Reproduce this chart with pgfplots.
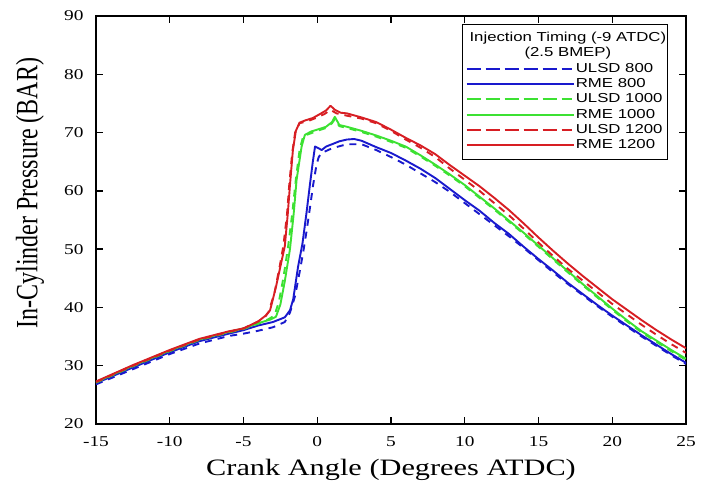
\documentclass[border=0pt]{standalone}
\usepackage{fontspec}
\setmainfont{Liberation Serif}
\newfontfamily\legfont{Liberation Sans}
\usepackage{graphicx}
\usepackage{pgfplots}
\pgfplotsset{compat=1.18}
\definecolor{cblue}{RGB}{25,25,205}
\definecolor{cgreen}{RGB}{60,225,50}
\definecolor{cred}{RGB}{215,30,35}
\newcommand{\sx}[1]{\scalebox{1.29}[1]{#1}}
\begin{document}
\begin{tikzpicture}
\begin{axis}[
  scale only axis, width=590bp, height=408bp,
  xmin=-15, xmax=25, ymin=20, ymax=90,
  xtick={-15,-10,...,25}, ytick={20,30,...,90},
  tick align=inside, major tick length=7bp,
  axis line style={line width=1.3bp}, tick style={line width=1.3bp, black},
  ticklabel style={font=\fontsize{15bp}{17bp}\selectfont},
  xticklabel={\sx{\pgfmathprintnumber[assume math mode=true]{\tick}}},
  yticklabel={\sx{\pgfmathprintnumber[assume math mode=true]{\tick}}},
  xticklabel style={yshift=-9bp},
  yticklabel style={xshift=-9bp},
  xlabel={\sx{Crank Angle (Degrees ATDC)}},
  ylabel={\scalebox{1}[1.29]{In-Cylinder Pressure (BAR)}},
  xlabel style={font=\fontsize{23.5bp}{26bp}\selectfont, at={(rel axis cs:0.5,-0.113)}, anchor=center},
  ylabel style={font=\fontsize{24bp}{26bp}\selectfont, at={(rel axis cs:-0.112,0.566)}, anchor=center},
  legend style={at={(0.968,0.980)}, anchor=north east, draw=black, line width=0.6bp,
     font=\legfont\fontsize{13bp}{15bp}\selectfont, row sep=0pt, inner xsep=3bp, inner ysep=6bp,
     nodes={text height=9.8bp, text depth=3bp, inner sep=1.25bp}},
  legend cell align=left,
  legend image code/.code={\draw[#1] (0,0) -- (95bp,0); \path (-4bp,0) -- (103bp,0);},
  every axis plot/.append style={line width=1.9bp, line join=round},
]
% ULSD 800
\addplot[cblue, dash pattern=on 7bp off 6bp, forget plot] table {
-15 26.8
-12.5 29.4
-10 32.0
-8 33.8
-6 35.1
-5 35.5
-4 36.0
-3 36.6
-2.2 37.5
-1.85 39.1
-1.5 42.0
-1.2 46.0
-0.95 49.5
-0.73 53.0
-0.5 57.0
-0.28 61.0
-0.05 64.5
0.1 65.8
0.3 66.5
1.0 67.3
2 68.0
3 68.0
4 67.0
5 65.8
6 64.5
7 63.0
8 61.5
9 59.8
10 57.9
11 56.0
12 54.1
13 52.2
14 50.2
15 48.1
16 46.0
17 44.0
18 42.1
19 40.2
20 38.4
21 36.7
22 35.0
23 33.4
24 31.8
25 30.3
};
% RME 800
\addplot[cblue, forget plot] table {
-15 27.0
-12.5 29.7
-10 32.3
-8 34.2
-6 35.5
-5 36.1
-4 36.9
-3 37.5
-2.2 38.3
-1.85 39.5
-1.63 41.4
-1.3 47.0
-1.0 51.0
-0.73 56.2
-0.5 61.0
-0.3 65.0
-0.15 67.6
0.1 67.3
0.3 67.0
0.6 67.6
1.0 68.0
1.5 68.5
2 68.8
2.5 68.9
3 68.6
4 67.5
5 66.5
6 65.2
7 63.8
8 62.2
9 60.3
10 58.4
11 56.6
12 54.5
13 52.6
14 50.4
15 48.3
16 46.3
17 44.2
18 42.3
19 40.4
20 38.6
21 36.9
22 35.2
23 33.6
24 32.0
25 30.5
};
% ULSD 1000
\addplot[cgreen, dash pattern=on 7bp off 6bp, forget plot] table {
-15 27.1
-12.5 29.9
-10 32.5
-8 34.4
-6 35.7
-5 36.3
-4 37.2
-3.3 38.0
-2.9 38.6
-2.6 41.0
-2.3 45.0
-2.0 50.0
-1.7 56.0
-1.45 62.0
-1.2 67.0
-0.95 69.4
-0.4 69.9
0 70.3
0.6 70.8
1.0 71.6
1.19 72.3
1.5 71.1
2 70.8
3 70.1
4 69.3
5 68.4
6 67.4
7 65.9
8 64.3
9 62.6
10 60.8
11 58.8
12 56.8
13 54.7
14 52.6
15 50.4
16 48.2
17 46.0
18 43.8
19 41.7
20 39.6
21 37.6
22 35.7
23 34.1
24 32.5
25 31.0
};
% RME 1000
\addplot[cgreen, forget plot] table {
-15 27.2
-12.5 30.0
-10 32.6
-8 34.5
-6 35.8
-5 36.4
-4 37.3
-3.2 37.9
-2.8 38.4
-2.5 40.5
-2.2 44.5
-1.85 50.0
-1.6 56.0
-1.4 61.9
-1.06 67.6
-0.84 69.6
-0.4 70.2
0 70.5
0.6 71.0
1.0 71.8
1.19 72.7
1.5 71.3
2 71.0
3 70.3
4 69.5
5 68.6
6 67.6
7 66.1
8 64.5
9 62.8
10 61.0
11 59.0
12 57.0
13 54.9
14 52.8
15 50.6
16 48.4
17 46.2
18 44.0
19 41.9
20 39.8
21 37.8
22 35.9
23 34.3
24 32.7
25 31.2
};
% ULSD 1200
\addplot[cred, dash pattern=on 7bp off 6bp, forget plot] table {
-15 27.2
-12.5 30.0
-10 32.6
-8 34.5
-6 35.8
-5 36.4
-4 37.6
-3.5 38.5
-3.3 39.2
-2.9 42.5
-2.55 47.0
-2.3 50.5
-2.05 56.0
-1.9 61.0
-1.7 66.5
-1.5 70.0
-1.2 71.6
-0.6 72.0
0 72.6
0.5 73.2
0.9 73.9
1.3 73.3
2 72.9
3 72.4
4 71.6
5 70.3
6 68.8
7 67.4
8 65.8
9 63.8
10 61.9
11 60.0
12 57.9
13 55.8
14 53.5
15 51.1
16 48.8
17 46.6
18 44.6
19 42.6
20 40.6
21 38.8
22 37.0
23 35.3
24 33.7
25 32.2
};
% RME 1200
\addplot[cred, forget plot] table {
-15 27.3
-12.5 30.1
-10 32.7
-8 34.6
-6 35.9
-5 36.4
-4 37.6
-3.5 38.6
-3.2 39.5
-2.8 43.5
-2.5 47.0
-2.2 50.5
-2.0 56.0
-1.85 61.0
-1.65 67.0
-1.45 70.3
-1.2 71.7
-0.8 72.1
-0.3 72.5
0.2 73.2
0.6 73.8
0.9 74.6
1.2 73.9
1.6 73.4
2 73.3
3 72.6
4 71.8
5 70.5
6 69.1
7 67.8
8 66.3
9 64.4
10 62.6
11 60.8
12 58.8
13 56.7
14 54.4
15 52.0
16 49.7
17 47.5
18 45.4
19 43.4
20 41.4
21 39.6
22 37.8
23 36.1
24 34.5
25 33.0
};
\addlegendimage{empty legend}\addlegendentry{\makebox[0pt][c]{\hspace*{-16bp}\sx{Injection Timing (-9 ATDC)}}}
\addlegendimage{empty legend}\addlegendentry{\makebox[0pt][c]{\hspace*{-16bp}\sx{(2.5 BMEP)}}}
\addlegendimage{cblue, line width=1.9bp, dash pattern=on 10bp off 9bp}\addlegendentry{\sx{ULSD 800}}
\addlegendimage{cblue, line width=1.9bp}\addlegendentry{\sx{RME 800}}
\addlegendimage{cgreen, line width=1.9bp, dash pattern=on 10bp off 9bp}\addlegendentry{\sx{ULSD 1000}}
\addlegendimage{cgreen, line width=1.9bp}\addlegendentry{\sx{RME 1000}}
\addlegendimage{cred, line width=1.9bp, dash pattern=on 10bp off 9bp}\addlegendentry{\sx{ULSD 1200}}
\addlegendimage{cred, line width=1.9bp}\addlegendentry{\sx{RME 1200}}
\end{axis}
\pgfresetboundingbox
\path (current axis.south west) ++(-96bp,-63bp) coordinate (bl);
\path (current axis.north east) ++(17bp,16bp) coordinate (tr);
\path (bl) rectangle (tr);
\end{tikzpicture}
\end{document}
